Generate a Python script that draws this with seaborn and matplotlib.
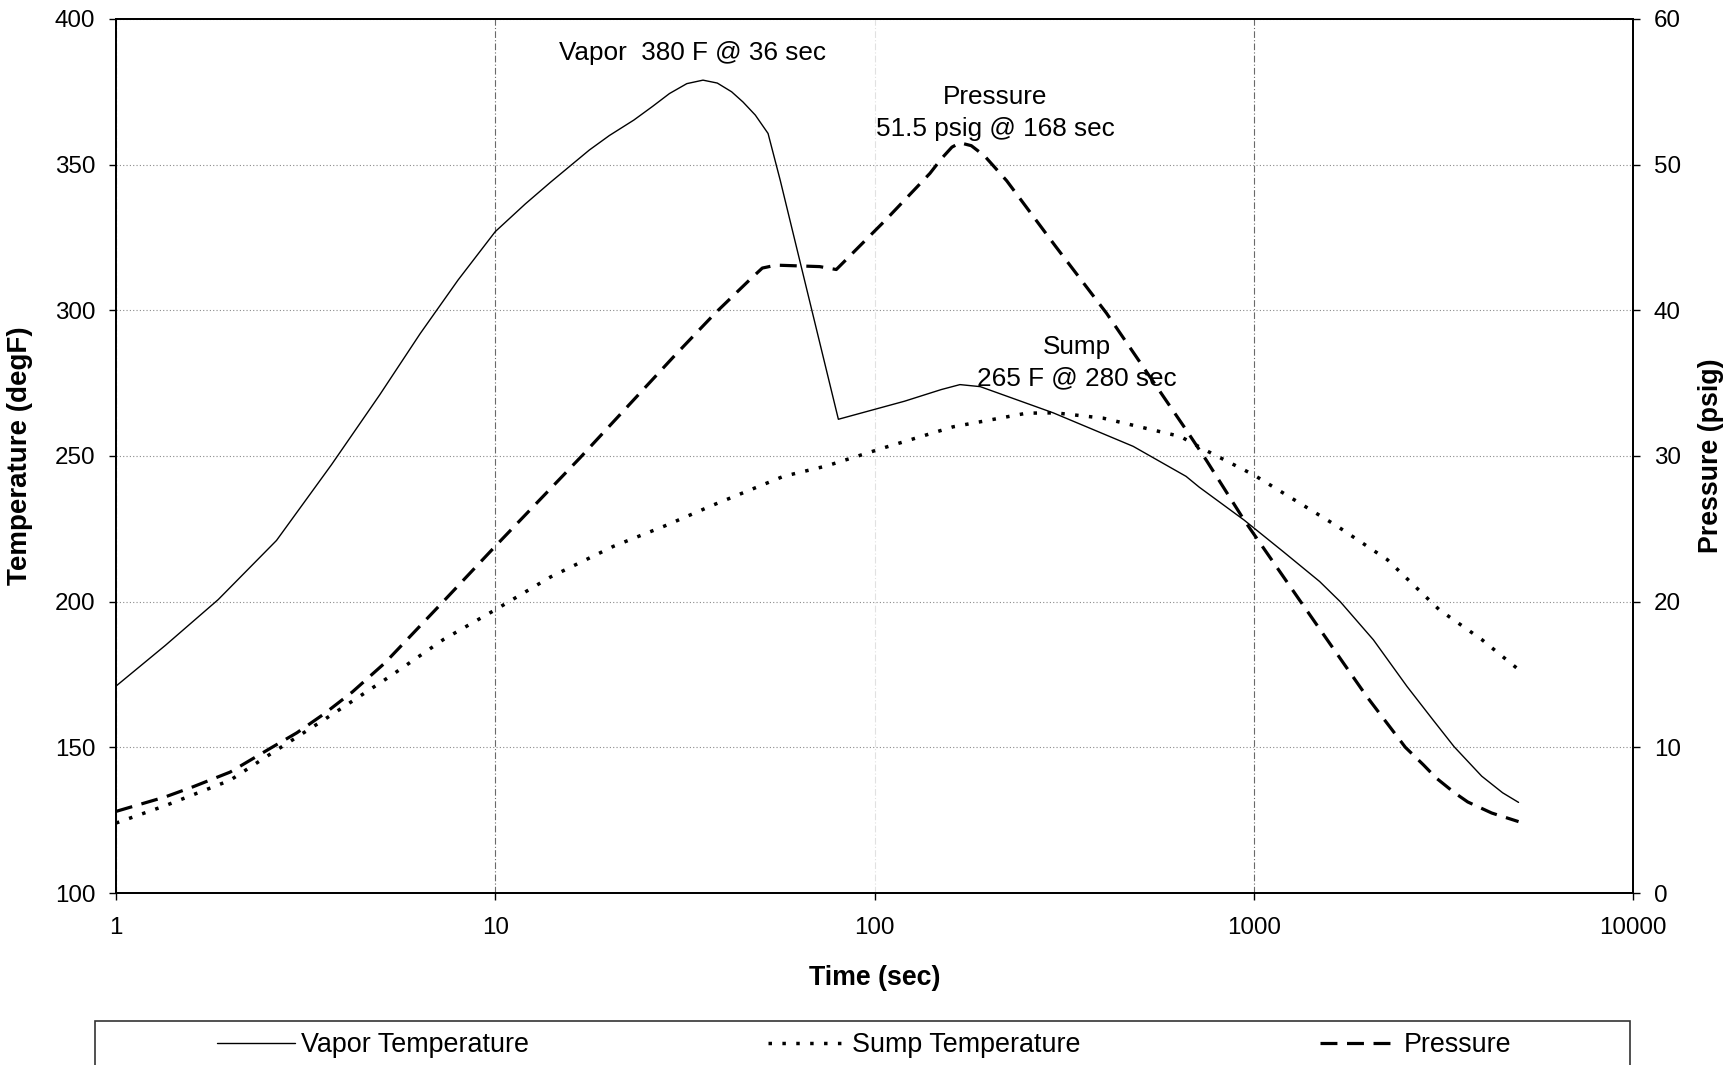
import matplotlib
matplotlib.use("Agg")
import matplotlib.pyplot as plt
import matplotlib.patches as mpatches
from matplotlib.ticker import NullLocator
import pandas as pd
import seaborn as sns

# Vapor temperature (degF) vs time (sec)
vapor_time = [1, 1.35, 1.86, 2.65, 3.7, 4.96, 6.34, 7.98, 10, 12, 14, 17.7, 20, 23.2, 26, 28.8,
              32, 35.3, 38.5, 42, 45, 48.5, 52.4, 56.4, 80.3, 120, 150, 168, 190, 296, 481,
              663, 718, 943, 1200, 1492, 1690, 2067, 2535, 2965, 3375, 3990, 4530, 4990]
vapor_temp = [171, 185, 200.7, 221, 247, 271, 292, 310.4, 327, 336.5, 344, 355, 360, 365.3, 370, 374.4,
              377.8, 379, 378, 375, 371.5, 367, 360.7, 344.7, 262.6, 268.8, 272.8, 274.5, 273.8, 264.8, 253.3,
              243, 239.3, 228, 217, 206.9, 200, 186.9, 170.9, 159.5, 150.2, 140.1, 134.4, 131.1]

# Sump temperature (degF)
sump_time = [1, 1.35, 2, 2.54, 3.54, 5.27, 7.3, 10, 14, 20.5, 28, 37.6, 57.5, 74.8, 107,
             161, 252, 300, 400, 640, 738, 1000, 1655, 2250, 3085, 3990, 4990]
sump_temp = [124, 130, 138.7, 147.5, 159.5, 174.3, 187, 197.2, 208.5, 219, 226, 233.2, 243, 246.6, 253,
             260, 264.7, 264.8, 263, 256.7, 252.3, 243.5, 226, 214.4, 197.2, 187, 176.7]

# Pressure (psig)
press_time = [1, 1.35, 1.6, 2, 2.54, 3, 3.54, 4.2, 5.12, 7.29, 10, 16.7, 29.5, 38, 46.9, 50.6, 55,
              71.7, 79.3, 107, 140, 150, 160, 168, 180, 195, 223, 300, 409, 663, 750, 943, 1321,
              1690, 1984, 2510, 2800, 3025, 3375, 3665, 4240, 4990]
press_psig = [5.6, 6.6, 7.3, 8.3, 9.9, 11.0, 12.3, 13.8, 15.8, 20.0, 23.8, 29.85, 36.8, 39.8, 42.1, 42.9, 43.1,
              43.0, 42.8, 46.2, 49.4, 50.4, 51.2, 51.5, 51.3, 50.6, 48.9, 44.4, 39.8, 31.8, 29.7, 25.6, 20.1,
              16.1, 13.5, 10.0, 8.8, 7.9, 6.9, 6.25, 5.49, 4.9]

x_ticks = [1, 10, 100, 1000, 10000]
x_labels = ["1", "10", "100", "1000", "10000"]
temp_ticks = [100, 150, 200, 250, 300, 350, 400]
press_ticks = [0, 10, 20, 30, 40, 50, 60]

vapor_df = pd.DataFrame({"Time": vapor_time, "Temp": vapor_temp})
sump_df = pd.DataFrame({"Time": sump_time, "Temp": sump_temp})
press_df = pd.DataFrame({"Time": press_time, "Pressure": press_psig})

sns.set_style("white")
plt.rcParams['font.family'] = ['Liberation Sans', 'DejaVu Sans']
plt.rcParams['text.color'] = 'black'
plt.rcParams['axes.labelcolor'] = 'black'
plt.rcParams['xtick.color'] = 'black'
plt.rcParams['ytick.color'] = 'black'

fig = plt.figure(figsize=(17.36, 10.65), dpi=100)
ax = fig.add_axes([0.0668, 0.1615, 0.8739, 0.8207])
ax2 = ax.twinx()

sns.lineplot(data=vapor_df, x="Time", y="Temp", ax=ax, color="black", linewidth=1.0,
             sort=False, estimator=None)
vapor_line = ax.lines[-1]
sns.lineplot(data=sump_df, x="Time", y="Temp", ax=ax, color="black", linewidth=2.5,
             linestyle=(0, (1, 3.0)), sort=False, estimator=None)
sump_line = ax.lines[-1]
sns.lineplot(data=press_df, x="Time", y="Pressure", ax=ax2, color="black", linewidth=2.3,
             linestyle=(0, (5.3, 3.0)), sort=False, estimator=None)
press_line = ax2.lines[-1]

ax.set_xscale("log")
ax.set_xlim(1, 10000)
ax.set_ylim(100, 400)
ax2.set_ylim(0, 60)
ax.set_xticks(x_ticks, labels=x_labels)
ax.xaxis.set_minor_locator(NullLocator())
ax.set_yticks(temp_ticks)
ax2.set_yticks(press_ticks)

ax.grid(axis="y", color="#8a8a8a", linestyle=(0, (1, 2)), linewidth=0.8)
ax.grid(axis="x", color="#6a6a6a", linestyle=(0, (6, 2, 1, 2)), linewidth=0.8)
ax.xaxis.get_gridlines()[2].set_alpha(0.2)
ax2.grid(False)
ax.set_axisbelow(True)

for a in (ax, ax2):
    for s in a.spines.values():
        s.set_color("black")
        s.set_linewidth(1.3)
ax.tick_params(axis="both", which="major", direction="out", length=5, width=1.0,
               labelsize=17.4, colors="black")
ax.tick_params(axis="x", pad=12, bottom=True)
ax.tick_params(axis="y", pad=10, left=True)
ax2.tick_params(axis="y", direction="out", length=5, width=1.0, labelsize=17.4, pad=10,
                right=True, colors="black")

ax.set_xlabel("Time (sec)", fontsize=19.3, fontweight="bold")
ax.set_ylabel("Temperature (degF)", fontsize=20, fontweight="bold")
ax2.set_ylabel("Pressure (psig)", fontsize=19.3, fontweight="bold")
ax.xaxis.set_label_coords(0.5, -0.082)
ax.yaxis.set_label_coords(-0.0545, 0.5)
ax2.yaxis.set_label_coords(1.0425, 0.5)

# Peak annotations
ax.text(14.7, 388.2, "Vapor  380 F @ 36 sec", fontsize=18.8, ha="left", va="center")
ax.text(208, 373.3, "Pressure", fontsize=18.8, ha="center", va="center")
ax.text(208, 362.3, "51.5 psig @ 168 sec", fontsize=18.8, ha="center", va="center")
ax.text(342, 287.5, "Sump", fontsize=18.8, ha="center", va="center")
ax.text(342, 276.5, "265 F @ 280 sec", fontsize=18.8, ha="center", va="center")

# Legend box running off the bottom edge
box = mpatches.Rectangle((95 / 1736, -0.05), (1630 - 95) / 1736, 0.05 + 1 - 1021 / 1065,
                         transform=fig.transFigure, fill=False, edgecolor="#333333",
                         linewidth=1.2, clip_on=False)
fig.patches.append(box)
fig.legend([vapor_line, sump_line, press_line],
           ["Vapor Temperature", "Sump Temperature", "Pressure"],
           loc="center left", bbox_to_anchor=(217 / 1736, 1 - 1045 / 1065),
           ncol=3, frameon=False, fontsize=19.4, borderpad=0, borderaxespad=0,
           handlelength=2.9, handletextpad=0.2, columnspacing=8.9)

fig.savefig("out.png", dpi=100)
